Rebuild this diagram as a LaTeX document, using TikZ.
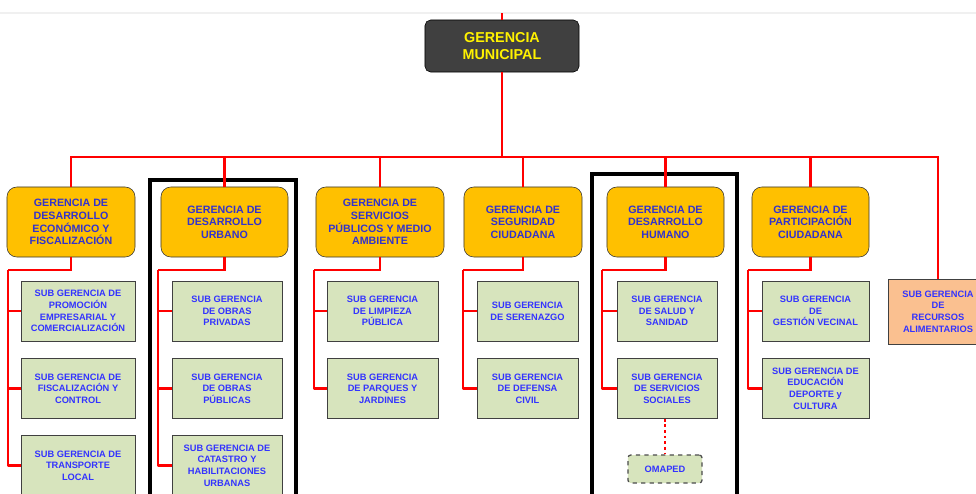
\documentclass[tikz,border=0pt]{standalone}
\usepackage{fontspec}
\setmainfont{Liberation Sans}
\usetikzlibrary{positioning}
\definecolor{gmGray}{HTML}{404040}
\definecolor{gerOrange}{HTML}{FFC000}
\definecolor{subGreen}{HTML}{D7E4BD}
\definecolor{subPeach}{HTML}{FAC090}
\definecolor{subBlue}{HTML}{3333FF}
\definecolor{gerBlue}{HTML}{3333CC}
\tikzset{
  topbox/.style={rectangle, rounded corners=4pt, draw=black, fill=gmGray, text=yellow,
              minimum width=3.85cm, minimum height=1.3cm, align=center,
              font=\fontsize{10.2}{12.3}\selectfont\bfseries},
  gerbox/.style={rectangle, rounded corners=7pt, draw=black!80, fill=gerOrange, text=gerBlue,
              minimum width=3.2cm, minimum height=1.75cm, align=center,
              font=\fontsize{7.6}{9}\selectfont\bfseries},
  subbox/.style={rectangle, draw=black!75, fill=subGreen, text=subBlue,
              minimum width=2.75cm, minimum height=1.5cm, align=center,
              font=\fontsize{6.6}{8.3}\selectfont\bfseries},
  peachbox/.style={subbox, fill=subPeach, minimum width=2.5cm, minimum height=1.625cm},
  dashbox/.style={subbox, dashed, rounded corners=2pt, draw=black!70, line width=0.9pt,
              minimum width=1.85cm, minimum height=0.7cm},
  redline/.style={draw=red, line width=1.6pt},
  frame/.style={draw=black, line width=2.2pt},
}

\begin{document}
\begin{tikzpicture}[x=0.025cm, y=-0.025cm]
  \useasboundingbox (0,0) rectangle (976,494);
  \clip (0,0) rectangle (976,494);
  \draw[gray!12, line width=0.8pt] (0,13) -- (976,13);
  % frames round the two marked columns
  \draw[frame] (150,180) rectangle (296,520);
  \draw[frame] (592,174) rectangle (737,520);

  % top
  \node[topbox] (gm) at (502,46) {GERENCIA\\MUNICIPAL};

  % gerencias
  \node[gerbox] (g1) at (71,222) {GERENCIA DE\\DESARROLLO\\ECONÓMICO Y\\FISCALIZACIÓN};
  \node[gerbox, minimum width=3.175cm] (g2) at (224.5,222) {GERENCIA DE\\DESARROLLO\\URBANO};
  \node[gerbox] (g3) at (380,222) {GERENCIA DE\\SERVICIOS\\PÚBLICOS Y MEDIO\\AMBIENTE};
  \node[gerbox, minimum width=2.95cm] (g4) at (523,222) {GERENCIA DE\\SEGURIDAD\\CIUDADANA};
  \node[gerbox, minimum width=2.925cm] (g5) at (665.5,222) {GERENCIA DE\\DESARROLLO\\HUMANO};
  \node[gerbox, minimum width=2.925cm] (g6) at (810.5,222) {GERENCIA DE\\PARTICIPACIÓN\\CIUDADANA};

  % sub gerencias
  \node[subbox, minimum width=2.85cm] (s11) at (78,311) {SUB GERENCIA DE\\PROMOCIÓN\\EMPRESARIAL Y\\COMERCIALIZACIÓN};
  \node[subbox, minimum width=2.85cm] (s12) at (78,388.5) {SUB GERENCIA DE\\FISCALIZACIÓN Y\\CONTROL};
  \node[subbox, minimum width=2.85cm] (s13) at (78,465.5) {SUB GERENCIA DE\\TRANSPORTE\\LOCAL};
  \node[subbox] (s21) at (227,311) {SUB GERENCIA\\DE OBRAS\\PRIVADAS};
  \node[subbox] (s22) at (227,388.5) {SUB GERENCIA\\DE OBRAS\\PÚBLICAS};
  \node[subbox] (s23) at (227,465.5) {SUB GERENCIA DE\\CATASTRO Y\\HABILITACIONES\\URBANAS};
  \node[subbox, minimum width=2.775cm] (s31) at (382.5,311) {SUB GERENCIA\\DE LIMPIEZA\\PÚBLICA};
  \node[subbox, minimum width=2.775cm] (s32) at (382.5,388.5) {SUB GERENCIA\\DE PARQUES Y\\JARDINES};
  \node[subbox, minimum width=2.525cm] (s41) at (527.5,311) {SUB GERENCIA\\DE SERENAZGO};
  \node[subbox, minimum width=2.525cm] (s42) at (527.5,388.5) {SUB GERENCIA\\DE DEFENSA\\CIVIL};
  \node[subbox, minimum width=2.5cm] (s51) at (667,311) {SUB GERENCIA\\DE SALUD Y\\SANIDAD};
  \node[subbox, minimum width=2.5cm] (s52) at (667,388.5) {SUB GERENCIA\\DE SERVICIOS\\SOCIALES};
  \node[dashbox] (om) at (665,469) {OMAPED};
  \node[subbox, minimum width=2.675cm] (s61) at (815.5,311) {SUB GERENCIA\\DE\\GESTIÓN VECINAL};
  \node[subbox, minimum width=2.675cm] (s62) at (815.5,388.5) {SUB GERENCIA DE\\EDUCACIÓN\\DEPORTE y\\CULTURA};
  \node[peachbox] (s7) at (938,311.5) {SUB GERENCIA\\DE\\RECURSOS\\ALIMENTARIOS};

  % bus
  \coordinate (top) at (502,13);
  \coordinate (busL) at (71,157);
  \coordinate (busR) at (938,157);
  \draw[redline] (top) -- (gm.north);
  \draw[redline] (gm.south) -- (gm.south |- busL);
  \draw[redline] (g1.north) -- (busL) -- (busR) -- (s7.north);
  \foreach \g in {g2,g3,g4,g5,g6}
    \draw[redline] (\g.north) -- (\g.north |- busL);

  % branches
  \coordinate (j1) at (8,270);
  \coordinate (j2) at (158,270);
  \coordinate (j3) at (314,270);
  \coordinate (j4) at (463,270);
  \coordinate (j5) at (602,270);
  \coordinate (j6) at (748,270);
  \foreach \c in {1,...,6}
    \draw[redline] (g\c.south) |- (j\c);
  \foreach \c/\s in {1/s11,1/s12,1/s13,2/s21,2/s22,2/s23,3/s31,3/s32,4/s41,4/s42,5/s51,5/s52,6/s61,6/s62}
    \draw[redline, line join=round] (j\c) |- (\s.west);
  \draw[red, line width=2pt, dotted] (s52.south -| om.north) -- (om.north);
\end{tikzpicture}
\end{document}
